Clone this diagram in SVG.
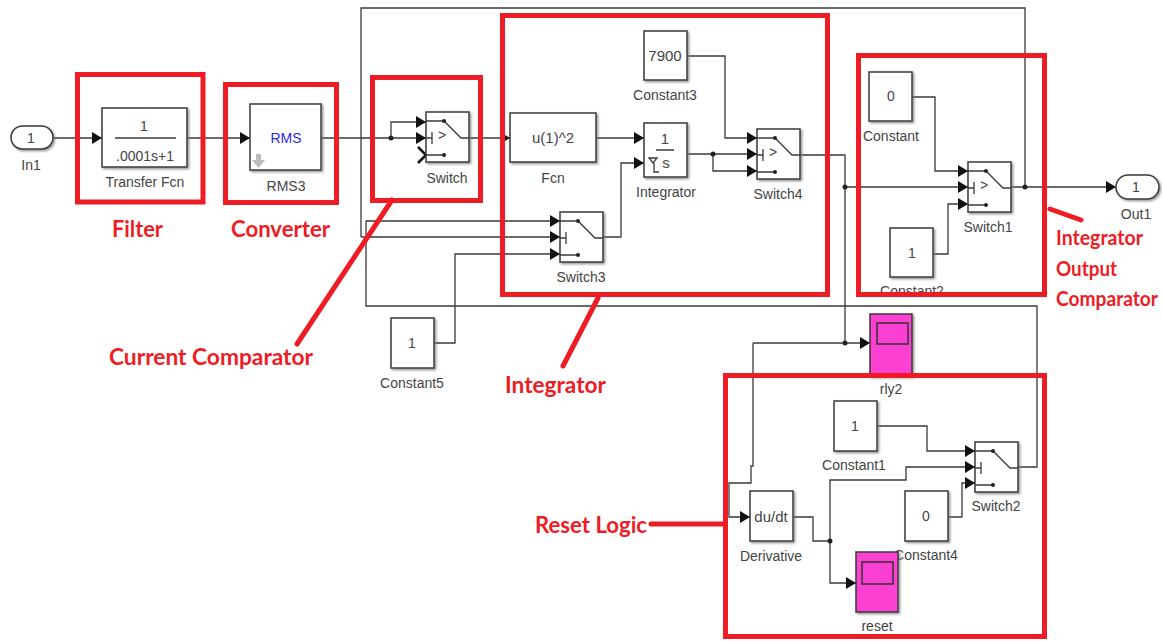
<svg xmlns="http://www.w3.org/2000/svg" width="1162" height="641" viewBox="0 0 1162 641">
<style>
.wire{fill:none;stroke:#3a3a3a;stroke-width:1.3}
.arr{marker-end:url(#tip)}
.blk{fill:#fff;stroke:#3a3a3a;stroke-width:1.5;filter:url(#sh)}
.scope{fill:#fb3fd2;stroke:#3a3a3a;stroke-width:1.5;filter:url(#sh)}
.scr{fill:#fb3fd2;stroke:#333;stroke-width:1.5}
.t{font-family:"Liberation Sans",Arial,sans-serif;font-size:14px;fill:#444;text-anchor:middle}
.v{font-size:15px}
.red{fill:none;stroke:#ee1c25;stroke-width:5}
.lead{fill:none;stroke:#ee1c25;stroke-width:5;stroke-linecap:round}
.r{font-family:Lato,"Open Sans",sans-serif;font-weight:700;font-size:22px;fill:#ee1c25}
.rs{font-size:20px}
.dot{fill:#222}
</style>
<defs>
<filter id="sh" x="-10%" y="-10%" width="125%" height="125%"><feDropShadow dx="1.5" dy="1.5" stdDeviation="1" flood-color="#777" flood-opacity="0.8"/></filter>
<marker id="tip" markerUnits="userSpaceOnUse" markerWidth="11" markerHeight="13" refX="10" refY="6" orient="auto"><path d="M0 0L10 6L0 12Z" fill="#111"/></marker>
<g id="sw">
<rect class="blk" width="43" height="50"/>
<path class="wire" d="M0 9H18L35 26H43M0 26H6M6 20V32M0 43H18"/>
<circle class="dot" cx="18" cy="9" r="2"/><circle class="dot" cx="18" cy="43" r="2"/>
</g>
</defs>
<g id="connectors">
<path class="wire arr" d="M53 138H102"/>
<path class="wire arr" d="M187 138H250"/>
<path class="wire arr" d="M321 138H426"/>
<path class="wire arr" d="M391 138V122H426"/>
<path class="wire arr" d="M469 138H510"/>
<path class="wire" style="stroke:#111;stroke-width:2.6" d="M418 147L426 155L418 163"/>
<path class="wire arr" d="M596 138H644"/>
<path class="wire arr" d="M602 237H621V163H644"/>
<path class="wire arr" d="M687 56H725V138H757"/>
<path class="wire arr" d="M687 154H757"/>
<path class="wire arr" d="M713 154V171H757"/>
<path class="wire" d="M800 155H845V343"/>
<path class="wire arr" d="M845 187H968"/>
<path class="wire arr" d="M1011 187H1116"/>
<path class="wire" d="M1025 187V8H361V237"/>
<path class="wire arr" d="M361 237H560"/>
<path class="wire arr" d="M1018 467H1037V306H366V221H560"/>
<path class="wire arr" d="M434 343H455V254H560"/>
<path class="wire arr" d="M912 97H935V171H968"/>
<path class="wire arr" d="M933 254H948V204H968"/>
<path class="wire arr" d="M753 343H870"/>
<path class="wire arr" d="M753 343V466H751V483H729V517H750"/>
<path class="wire" d="M793 517H813V541H830"/>
<path class="wire arr" d="M830 541V480H906V467H975"/>
<path class="wire arr" d="M830 541V583H856"/>
<path class="wire arr" d="M877 426H927V451H975"/>
<path class="wire arr" d="M948 517H962V483H975"/>
<circle class="dot" cx="391" cy="138" r="2.500"/>
<circle class="dot" cx="713" cy="154" r="2.500"/>
<circle class="dot" cx="845" cy="187" r="2.500"/>
<circle class="dot" cx="1025" cy="187" r="2.500"/>
<circle class="dot" cx="845" cy="343" r="2.500"/>
<circle class="dot" cx="830" cy="541" r="2.500"/>
</g>
<g id="In1"><rect class="blk" x="11" y="126" width="42" height="23" rx="11.500"/><text class="t" x="31" y="143">1</text><text class="t" x="31" y="170">In1</text></g>
<g id="TransferFcn"><rect class="blk" x="102" y="108" width="85" height="59"/><path class="wire" d="M115 138H176"/><text class="t" x="144" y="131">1</text><text class="t" x="145" y="161">.0001s+1</text><text class="t" x="145" y="187">Transfer Fcn</text></g>
<g id="RMS3"><rect class="blk" x="250" y="104" width="71" height="66"/><text class="t" x="286" y="143" style="fill:#2a2ae0">RMS</text><path d="M256 154H261V160H265L258.500 168L252 160H256Z" fill="#bbb"/><text class="t" x="286" y="191">RMS3</text></g>
<g id="Switch"><use href="#sw" x="426" y="112"/><text class="t" x="442" y="140">&gt;</text><text class="t" x="447" y="183">Switch</text></g>
<g id="Fcn"><rect class="blk" x="510" y="113" width="86" height="49"/><text class="t v" x="553" y="143">u(1)^2</text><text class="t" x="553" y="183">Fcn</text></g>
<g id="Constant3"><rect class="blk" x="644" y="31" width="43" height="49"/><text class="t v" x="665" y="61">7900</text><text class="t" x="665" y="100">Constant3</text></g>
<g id="Integrator"><rect class="blk" x="644" y="123" width="43" height="54"/><text class="t v" x="665" y="144">1</text><path class="wire" d="M656 150H674M649 158H657L653 163ZM654 163V172H659"/><text class="t v" x="666" y="168">s</text><text class="t" x="666" y="197">Integrator</text></g>
<g id="Switch4"><use href="#sw" x="757" y="129"/><text class="t" x="773" y="157">&gt;</text><text class="t" x="778" y="199">Switch4</text></g>
<g id="Switch3"><use href="#sw" x="560" y="212"/><text class="t" x="581" y="282">Switch3</text></g>
<g id="Constant"><rect class="blk" x="869" y="72" width="43" height="49"/><text class="t" x="891" y="101">0</text><text class="t" x="891" y="141">Constant</text></g>
<g id="Switch1"><use href="#sw" x="968" y="162"/><text class="t" x="984" y="190">&gt;</text><text class="t" x="988" y="232">Switch1</text></g>
<g id="Constant2"><rect class="blk" x="890" y="228" width="43" height="49"/><text class="t" x="912" y="258">1</text><text class="t" x="912" y="296">Constant2</text></g>
<g id="Out1"><rect class="blk" x="1116" y="175" width="43" height="24" rx="12"/><text class="t" x="1136" y="192">1</text><text class="t" x="1136" y="219">Out1</text></g>
<g id="Constant5"><rect class="blk" x="391" y="318" width="43" height="50"/><text class="t" x="412" y="348">1</text><text class="t" x="412" y="388">Constant5</text></g>
<g id="rly2"><rect class="scope" x="870" y="314" width="42" height="62"/><rect class="scr" x="877" y="323" width="31" height="21"/><text class="t" x="891" y="394">rly2</text></g>
<g id="Constant1"><rect class="blk" x="834" y="401" width="43" height="50"/><text class="t" x="855" y="431">1</text><text class="t" x="854" y="470">Constant1</text></g>
<g id="Switch2"><use href="#sw" x="975" y="442"/><text class="t" x="996" y="511">Switch2</text></g>
<g id="Derivative"><rect class="blk" x="750" y="491" width="43" height="50"/><text class="t v" x="771" y="522">du/dt</text><text class="t" x="771" y="561">Derivative</text></g>
<g id="Constant4"><rect class="blk" x="905" y="491" width="43" height="50"/><text class="t" x="926" y="521">0</text><text class="t" x="926" y="560">Constant4</text></g>
<g id="reset"><rect class="scope" x="856" y="552" width="42" height="60"/><rect class="scr" x="862" y="562" width="31" height="22"/><text class="t" x="877" y="631">reset</text></g>
<g id="annotations">
<rect class="red" x="77.500" y="74.500" width="125.500" height="127.500"/>
<rect class="red" x="225.500" y="84.500" width="111" height="118"/>
<rect class="red" x="372.500" y="77.500" width="108" height="123"/>
<rect class="red" x="502.500" y="15.500" width="325" height="279"/>
<rect class="red" x="858.500" y="55.500" width="186" height="239"/>
<rect class="red" x="725.500" y="375.500" width="319" height="261"/>
<path class="lead" d="M392 200L297 344M598 298L563 366M1050 209L1081 220M651 524H723"/>
<text class="r" x="112" y="237" textLength="51" lengthAdjust="spacingAndGlyphs">Filter</text>
<text class="r" x="231" y="237" textLength="99" lengthAdjust="spacingAndGlyphs">Converter</text>
<text class="r" x="109" y="365" textLength="204" lengthAdjust="spacingAndGlyphs">Current Comparator</text>
<text class="r" x="505" y="393" textLength="101" lengthAdjust="spacingAndGlyphs">Integrator</text>
<text class="r rs" x="1056" y="245" textLength="87" lengthAdjust="spacingAndGlyphs">Integrator</text>
<text class="r rs" x="1056" y="276" textLength="61" lengthAdjust="spacingAndGlyphs">Output</text>
<text class="r rs" x="1056" y="306" textLength="102" lengthAdjust="spacingAndGlyphs">Comparator</text>
<text class="r" x="535" y="533" textLength="112" lengthAdjust="spacingAndGlyphs">Reset Logic</text>
</g>
</svg>
